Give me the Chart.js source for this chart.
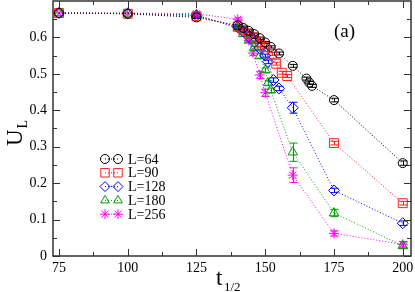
<!DOCTYPE html>
<html>
<head>
<meta charset="utf-8">
<style>
  html, body { margin: 0; padding: 0; background: #fff; }
  #wrap { width: 415px; height: 292px; }
</style>
<script src="https://cdn.jsdelivr.net/npm/chart.js@4.4.1/dist/chart.umd.min.js"></script>
</head>
<body>
<div id="wrap"><canvas id="chart"></canvas></div>
<script>
// tick labels
const xTicks = [75, 100, 125, 150, 175, 200];
const yTicks = [0, 0.1, 0.2, 0.3, 0.4, 0.5, 0.6];

// series names
const sizes = ['L=64', 'L=90', 'L=128', 'L=180', 'L=256'];

// L=64
const t64 = [75, 100, 125, 140, 142, 144, 146, 148, 150, 152, 155, 160, 165, 166, 167, 175, 200];
const u64 = [0.667, 0.665, 0.655, 0.633, 0.626, 0.618, 0.609, 0.598, 0.586, 0.574, 0.556, 0.522, 0.487, 0.476, 0.467, 0.428, 0.255];
const e64 = [0, 0, 0.003, 0.003, 0.003, 0.003, 0.003, 0.003, 0.003, 0.003, 0.004, 0.004, 0.004, 0.004, 0.004, 0.005, 0.006];

// L=90
const t90 = [75, 100, 125, 140, 142, 144, 146, 148, 150, 152.5, 154, 156, 158, 175, 200];
const u90 = [0.667, 0.665, 0.658, 0.630, 0.621, 0.611, 0.600, 0.588, 0.573, 0.555, 0.528, 0.503, 0.494, 0.310, 0.145];
const e90 = [0, 0, 0.003, 0.003, 0.003, 0.003, 0.003, 0.003, 0.003, 0.004, 0.004, 0.004, 0.004, 0.005, 0.005];

// L=128
const t128 = [75, 100, 125, 140, 142, 144, 146, 148, 150, 151, 153, 155, 160, 175, 200];
const u128 = [0.667, 0.666, 0.660, 0.628, 0.616, 0.602, 0.587, 0.570, 0.550, 0.533, 0.483, 0.460, 0.407, 0.180, 0.090];
const e128 = [0, 0, 0.003, 0.003, 0.003, 0.003, 0.003, 0.004, 0.004, 0.005, 0.006, 0.006, 0.015, 0.006, 0.006];

// L=180
const t180 = [75, 100, 125, 140, 142, 144, 146, 148, 150, 151, 152, 160, 175, 200];
const u180 = [0.667, 0.666, 0.662, 0.625, 0.610, 0.592, 0.572, 0.549, 0.510, 0.475, 0.455, 0.285, 0.118, 0.028];
const e180 = [0, 0, 0.003, 0.003, 0.003, 0.004, 0.004, 0.006, 0.006, 0.006, 0.006, 0.025, 0.010, 0.008];

// L=256
const t256 = [75, 100, 125, 140, 142, 144, 145.5, 148, 150, 160, 175, 200];
const u256 = [0.667, 0.667, 0.665, 0.650, 0.618, 0.592, 0.557, 0.497, 0.448, 0.222, 0.062, 0.032];
const e256 = [0, 0, 0.003, 0.004, 0.004, 0.005, 0.006, 0.010, 0.010, 0.020, 0.007, 0.008];

const colors = ['#000000', '#ff2020', '#0000ff', '#00a000', '#ff00ff'];
const shapes = ['circle', 'rect', 'rectRot', 'triangle', 'star'];
const radii = [4.5, 6.3, 5.5, 5.5, 5];
const allT = [t64, t90, t128, t180, t256];
const allU = [u64, u90, u128, u180, u256];
const allE = [e64, e90, e128, e180, e256];

const serif = '"Liberation Serif", "Times New Roman", serif';

// draw one marker like Chart.js does, for the legend
function drawMarker(ctx, shape, x, y, r) {
  ctx.beginPath();
  if (shape === 'circle') {
    ctx.arc(x, y, r, 0, Math.PI * 2);
  } else if (shape === 'rect') {
    const s = Math.SQRT1_2 * r;
    ctx.rect(x - s, y - s, 2 * s, 2 * s);
  } else if (shape === 'rectRot') {
    ctx.moveTo(x, y - r); ctx.lineTo(x + r, y); ctx.lineTo(x, y + r); ctx.lineTo(x - r, y); ctx.closePath();
  } else if (shape === 'triangle') {
    const a = -Math.PI / 2;
    for (let k = 0; k < 3; k++) {
      const ang = a + k * 2 * Math.PI / 3;
      const px = x + Math.cos(ang) * r, py = y + Math.sin(ang) * r;
      if (k === 0) ctx.moveTo(px, py); else ctx.lineTo(px, py);
    }
    ctx.closePath();
  } else if (shape === 'star') {
    for (let k = 0; k < 4; k++) {
      const ang = k * Math.PI / 4;
      ctx.moveTo(x + Math.cos(ang) * r, y + Math.sin(ang) * r);
      ctx.lineTo(x - Math.cos(ang) * r, y - Math.sin(ang) * r);
    }
  }
  ctx.stroke();
}

const datasets = sizes.map((name, i) => ({
  label: name,
  data: allT[i].map((t, j) => ({ x: t, y: allU[i][j] })),
  showLine: true,
  borderColor: colors[i],
  borderWidth: 1,
  borderDash: [1, 2],
  pointStyle: shapes[i],
  pointRadius: radii[i],
  pointBorderColor: colors[i],
  pointBackgroundColor: 'rgba(0,0,0,0)',
  pointBorderWidth: 1
}));

const extras = {
  id: 'extras',
  beforeDatasetsDraw(chart) {
    const ctx = chart.ctx;
    const xs = chart.scales.x, ys = chart.scales.y;
    // error bars
    ctx.save();
    ctx.lineWidth = 1;
    allT.forEach((ts, i) => {
      ctx.strokeStyle = colors[i];
      ts.forEach((t, j) => {
        const e = allE[i][j];
        if (!e) return;
        const px = Math.round(xs.getPixelForValue(t)) + 0.5;
        const y1 = ys.getPixelForValue(allU[i][j] - e);
        const y2 = ys.getPixelForValue(allU[i][j] + e);
        ctx.beginPath();
        ctx.moveTo(px, y1); ctx.lineTo(px, y2);
        ctx.moveTo(px - 4, y1); ctx.lineTo(px + 4, y1);
        ctx.moveTo(px - 4, y2); ctx.lineTo(px + 4, y2);
        ctx.stroke();
      });
    });
    ctx.restore();
  },
  afterDraw(chart) {
    const ctx = chart.ctx;
    const a = chart.chartArea;
    const xs = chart.scales.x, ys = chart.scales.y;
    ctx.save();
    // frame
    ctx.strokeStyle = '#333';
    ctx.lineWidth = 1.5;
    ctx.strokeRect(a.left, a.top, a.right - a.left, a.bottom - a.top);
    // ticks inside, all sides
    ctx.lineWidth = 1;
    ctx.beginPath();
    for (let v = 75; v <= 200; v += 12.5) {
      const px = Math.round(xs.getPixelForValue(v)) + 0.5;
      const len = (v - 75) % 25 === 0 ? 7 : 4;
      ctx.moveTo(px, a.bottom); ctx.lineTo(px, a.bottom - len);
      ctx.moveTo(px, a.top); ctx.lineTo(px, a.top + len);
    }
    for (let k = 0; k <= 13; k++) {
      const v = k * 0.05;
      const py = Math.round(ys.getPixelForValue(v)) + 0.5;
      const len = k % 2 === 0 ? 7 : 4;
      ctx.moveTo(a.left, py); ctx.lineTo(a.left + len, py);
      ctx.moveTo(a.right, py); ctx.lineTo(a.right - len, py);
    }
    ctx.stroke();

    // legend
    ctx.font = '14px ' + serif;
    ctx.textBaseline = 'middle';
    ctx.textAlign = 'left';
    sizes.forEach((name, i) => {
      const y = 159 + i * 13.8;
      ctx.strokeStyle = colors[i];
      ctx.lineWidth = 1;
      ctx.setLineDash([1, 2]);
      ctx.beginPath(); ctx.moveTo(105, y); ctx.lineTo(118, y); ctx.stroke();
      ctx.setLineDash([]);
      const r = Math.min(radii[i], 5);
      drawMarker(ctx, shapes[i], 105, y, shapes[i] === 'rect' ? 6 : r);
      drawMarker(ctx, shapes[i], 118, y, shapes[i] === 'rect' ? 6 : r);
      ctx.fillStyle = '#000';
      ctx.fillText(name, 128, y + 1);
    });

    // (a)
    ctx.font = '19px ' + serif;
    ctx.textBaseline = 'alphabetic';
    ctx.fillText('(a)', 334, 37);

    // x title t_{1/2}
    ctx.font = '23px ' + serif;
    ctx.fillText('t', 216, 285);
    ctx.font = '13px ' + serif;
    ctx.fillText('1/2', 224, 291);

    // y title U_L
    ctx.translate(22, 146);
    ctx.rotate(-Math.PI / 2);
    ctx.font = '23px ' + serif;
    ctx.fillText('U', 0, 0);
    const w = ctx.measureText('U').width;
    ctx.font = '14px ' + serif;
    ctx.fillText('L', w + 1, 5);
    ctx.restore();
  }
};

new Chart(document.getElementById('chart'), {
  type: 'scatter',
  data: { datasets },
  options: {
    responsive: true,
    maintainAspectRatio: false,
    animation: false,
    layout: { autoPadding: false, padding: { top: 1, right: 4, left: 0, bottom: 0 } },
    plugins: { legend: { display: false }, tooltip: { enabled: false } },
    scales: {
      x: {
        type: 'linear',
        min: 72.82,
        max: 203,
        afterBuildTicks(scale) { scale.ticks = xTicks.map(v => ({ value: v })); },
        afterFit(scale) { scale.height = 36; scale.paddingLeft = 0; scale.paddingRight = 0; },
        grid: { display: false, drawTicks: false },
        border: { display: false },
        ticks: { color: '#000', padding: 4, maxRotation: 0, font: { family: serif, size: 14 } }
      },
      y: {
        type: 'linear',
        min: 0,
        max: 0.7,
        afterBuildTicks(scale) { scale.ticks = yTicks.map(v => ({ value: v })); },
        afterFit(scale) { scale.width = 53; scale.paddingTop = 0; scale.paddingBottom = 0; },
        grid: { display: false, drawTicks: false },
        border: { display: false },
        ticks: {
          color: '#000', padding: 6, font: { family: serif, size: 14 },
          callback: v => (v === 0 ? '0' : v.toFixed(1))
        }
      }
    }
  },
  plugins: [extras]
});
</script>
</body>
</html>
